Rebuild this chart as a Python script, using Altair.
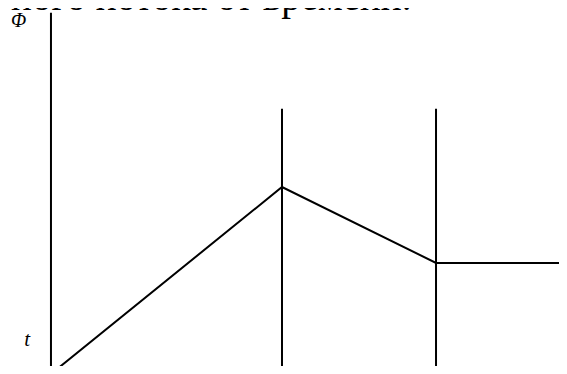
import altair as alt
import pandas as pd

# Piecewise flux vs time
t_vals = [0, 3, 5, 6.75]
phi_vals = [0, 5, 2.97, 2.97]

# Vertical lines (axis and the two time markers)
vline_t = [0, 3, 5]
vline_bottom = [-0.3, -0.3, -0.3]
vline_top = [9.66, 7.09, 7.09]

# Text labels
label_text = ["Φ", "t"]
label_size = [20, 21]
label_t = [-0.42, -0.31]
label_phi = [9.45, 0.91]

title_text = ["тного потока от времени."]
title_t = [-0.74]
title_phi = [9.73]

xs = alt.Scale(domain=[-0.558, 6.597], range=[0, 551])
ys = alt.Scale(domain=[0.214, 9.786], range=[358, 0])

curve = pd.DataFrame({"t": t_vals, "phi": phi_vals})
vl = pd.DataFrame({"t": vline_t, "y0": vline_bottom, "y1": vline_top})
lab = pd.DataFrame({"text": label_text, "t": label_t, "phi": label_phi, "size": label_size})
ttl = pd.DataFrame({"text": title_text, "t": title_t, "phi": title_phi})

line = alt.Chart(curve).mark_line(color="black", strokeWidth=2, clip=False).encode(
    x=alt.X("t:Q", scale=xs, axis=None),
    y=alt.Y("phi:Q", scale=ys, axis=None),
    order="t:Q",
)

rules = alt.Chart(vl).mark_rule(color="black", strokeWidth=2, clip=False).encode(
    x=alt.X("t:Q", scale=xs, axis=None),
    y=alt.Y("y0:Q", scale=ys, axis=None),
    y2="y1:Q",
)

labels = alt.Chart(lab).mark_text(
    font="Liberation Serif", fontStyle="italic", color="black",
    align="center", baseline="middle",
).encode(
    x=alt.X("t:Q", scale=xs, axis=None),
    y=alt.Y("phi:Q", scale=ys, axis=None),
    text="text:N",
    size=alt.Size("size:Q", scale=None, legend=None),
)

title = alt.Chart(ttl).mark_text(
    font="Liberation Serif", fontSize=39, color="black",
    align="left", baseline="alphabetic",
).encode(
    x=alt.X("t:Q", scale=xs, axis=None),
    y=alt.Y("phi:Q", scale=ys, axis=None),
    text="text:N",
)

chart = alt.layer(line, rules, labels, title).properties(
    width=551, height=358,
    autosize=alt.AutoSizeParams(type="none"),
    padding=0,
).configure_view(stroke=None)

chart.save("out.html", embed_options={"renderer": "svg", "actions": False})
